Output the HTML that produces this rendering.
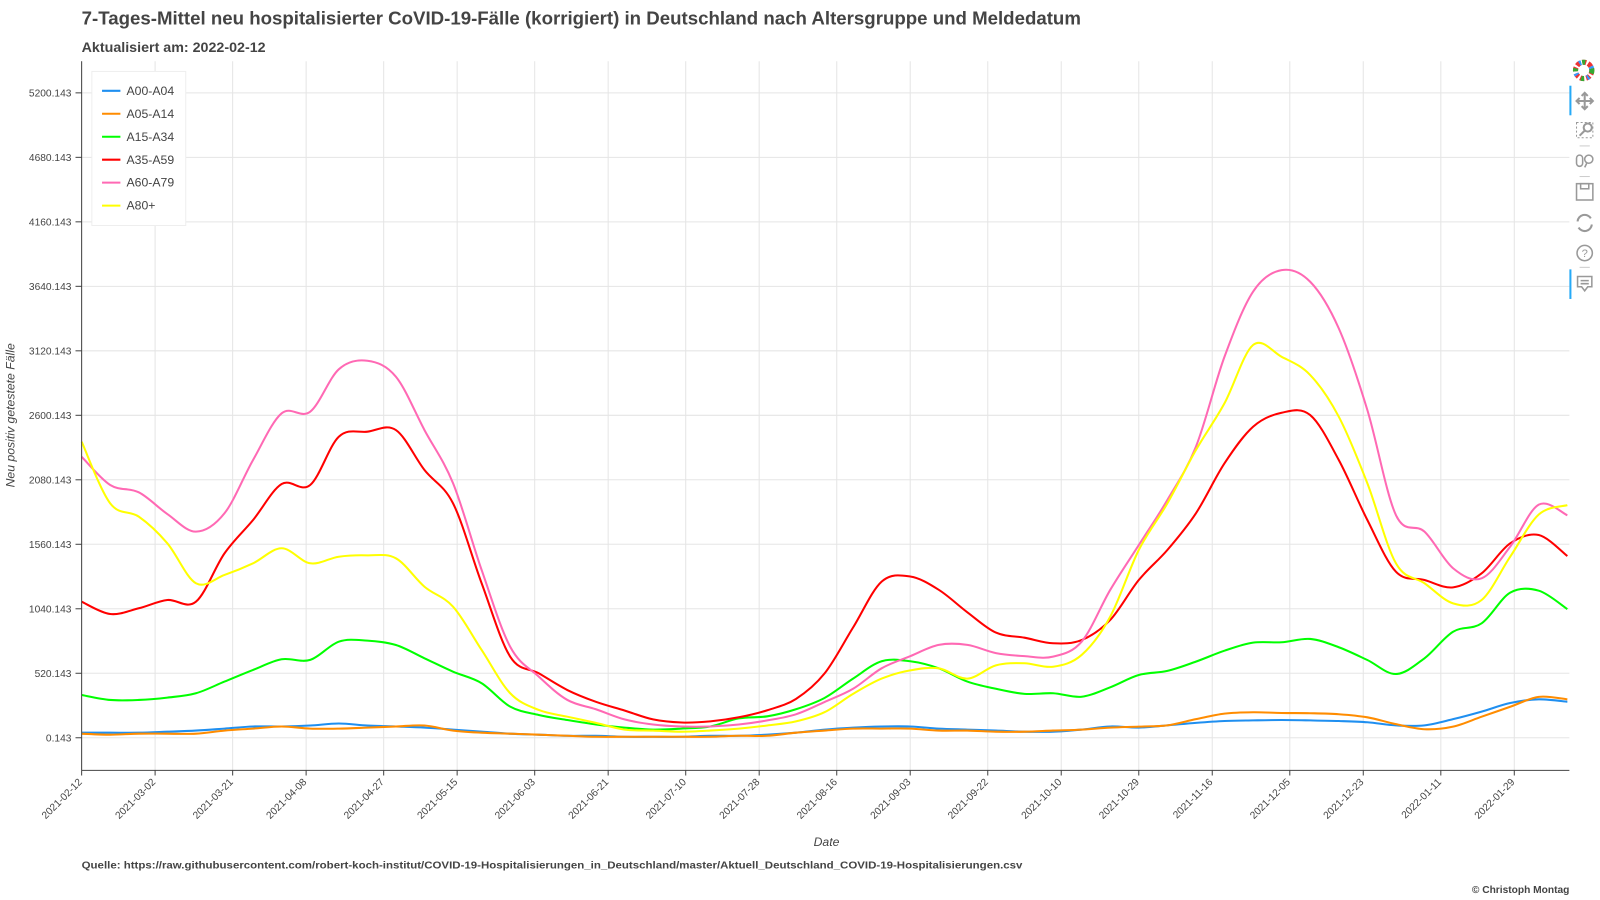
<!DOCTYPE html>
<html><head><meta charset="utf-8"><style>
html,body{margin:0;padding:0;background:#fff;}
svg{display:block;font-family:"Liberation Sans",Arial,sans-serif;}
</style></head><body>
<svg id="chart" width="1600" height="900" viewBox="0 0 1568 882">
<text x="80" y="24" font-size="18.3" font-weight="bold" fill="#444">7-Tages-Mittel neu hospitalisierter CoVID-19-Fälle (korrigiert) in Deutschland nach Altersgruppe und Meldedatum</text>
<text x="80" y="51" font-size="14" font-weight="bold" fill="#444">Aktualisiert am: 2022-02-12</text>
<g id="grid"></g>
<g id="series"></g>
<g id="axes"></g>
<text transform="translate(14,407) rotate(-90)" text-anchor="middle" font-size="12" font-style="italic" fill="#444">Neu positiv getestete Fälle</text>
<text x="810" y="829" text-anchor="middle" font-size="12" font-style="italic" fill="#444">Date</text>
<text x="80" y="851" font-size="10" font-weight="bold" fill="#444" textLength="922" lengthAdjust="spacingAndGlyphs">Quelle: https://raw.githubusercontent.com/robert-koch-institut/COVID-19-Hospitalisierungen_in_Deutschland/master/Aktuell_Deutschland_COVID-19-Hospitalisierungen.csv</text>
<text x="1538" y="875" text-anchor="end" font-size="10" font-weight="bold" fill="#444">© Christoph Montag</text>
<g id="legend"></g>
<g id="toolbar">
<g transform="translate(1552,69)">
<circle r="8" fill="none" stroke="#e33" stroke-width="5" stroke-dasharray="4 2"/><circle r="8" fill="none" stroke="#3a3" stroke-width="5" stroke-dasharray="3 9" />
<circle r="8" fill="none" stroke="#39f" stroke-width="5" stroke-dasharray="2 11" stroke-dashoffset="6"/><circle r="4" fill="#fff"/>
</g>
<rect x="1538" y="84" width="2" height="29" fill="#26aaf7"/>
<g stroke="#999" stroke-width="2" fill="none"><path d="M1545 99h16M1553 91v16"/><path d="M1550 94l3-3 3 3M1550 104l3 3 3-3M1548 96l-3 3 3 3M1558 96l3 3-3 3"/></g>
<g stroke="#999" fill="none"><rect x="1545" y="120" width="16" height="15" stroke-dasharray="2 2"/><circle cx="1556" cy="125" r="4" stroke-width="2"/><path d="M1553 128l-5 5" stroke-width="2"/></g>
<path d="M1548 143h10" stroke="#ccc"/>
<g stroke="#999" fill="none" stroke-width="1.5"><rect x="1545" y="152" width="6" height="11" rx="3"/><circle cx="1557" cy="156" r="4"/><path d="M1555 160l-2 4"/></g>
<path d="M1548 173h10" stroke="#ccc"/>
<g stroke="#999" fill="none" stroke-width="1.5"><rect x="1545" y="180" width="16" height="16"/><rect x="1549" y="180" width="8" height="5"/></g>
<g stroke="#999" fill="none" stroke-width="2"><path d="M1546 217a7 7 0 0 1 13-3M1560 220a7 7 0 0 1-13 3"/></g>
<g><circle cx="1553" cy="248" r="7.5" stroke="#999" stroke-width="1.5" fill="none"/><text x="1553" y="252" text-anchor="middle" font-size="11" fill="#999">?</text></g>
<path d="M1548 262h10" stroke="#ccc"/>
<rect x="1538" y="264" width="2" height="29" fill="#26aaf7"/>
<g stroke="#999" fill="none" stroke-width="1.5"><path d="M1546 271h14v10h-4l-3 4-3-4h-4z"/><path d="M1549 275h8M1549 278h8"/></g>
</g>
</svg>
<script>
const categoriesDays = [0,7,14,21,28,35,42,49,56,63,70,77,84,91,98,105,112,119,126,133,140,147,154,161,168,175,182,189,196,203,210,217,224,231,238,245,252,259,266,273,280,287,294,301,308,315,322,329,336,343,350,357,364];
const seriesNames = ["A00-A04","A05-A14","A15-A34","A35-A59","A60-A79","A80+"];
const seriesColors = ["#1f8ff0","#ff8c00","#00ff00","#ff0000","#ff69b4","#ffff00"];
const a00 = [41,41,41,49,58,74,91,91,99,115,99,91,82,66,49,33,25,16,16,8,8,8,16,16,25,41,66,82,91,91,74,66,58,49,49,66,91,82,100,120,135,140,143,140,135,125,100,100,150,211,280,310,290];
const a05 = [33,25,33,33,33,58,74,91,74,74,82,91,99,58,41,33,25,16,8,8,8,8,8,16,16,41,58,74,74,74,58,58,49,49,58,66,82,90,100,150,195,206,200,198,190,165,110,69,90,170,250,330,310];
const a15 = [345,305,305,324,359,453,547,633,628,775,783,748,641,533,440,251,184,143,107,82,66,74,91,156,173,230,321,477,617,617,560,453,395,354,359,331,407,506,539,614,702,767,770,797,730,627,514,641,855,923,1170,1186,1037];
const a35 = [1097,998,1044,1111,1097,1487,1756,2046,2038,2427,2468,2481,2159,1890,1246,654,520,385,290,220,148,123,132,165,222,313,518,889,1259,1300,1193,1012,848,807,762,788,950,1272,1514,1810,2213,2508,2621,2602,2240,1756,1339,1272,1213,1326,1568,1635,1465];
const a60 = [2266,2038,1979,1804,1662,1810,2240,2616,2629,2971,3040,2911,2481,2052,1353,734,493,305,230,148,107,91,91,107,140,189,288,395,560,658,749,749,683,658,654,775,1192,1554,1917,2347,3072,3597,3771,3677,3301,2643,1796,1662,1367,1286,1541,1880,1794];
const a80 = [2387,1890,1783,1568,1246,1313,1407,1528,1407,1460,1471,1447,1218,1057,708,359,224,170,120,66,58,49,58,74,99,132,206,354,477,543,560,477,584,601,573,668,976,1514,1890,2320,2697,3167,3072,2925,2589,2052,1407,1246,1084,1111,1460,1800,1876];
const yTickValues = [0.143,520.143,1040.143,1560.143,2080.143,2600.143,3120.143,3640.143,4160.143,4680.143,5200.143];
const xTickLabels = ["2021-02-12","2021-03-02","2021-03-21","2021-04-08","2021-04-27","2021-05-15","2021-06-03","2021-06-21","2021-07-10","2021-07-28","2021-08-16","2021-09-03","2021-09-22","2021-10-10","2021-10-29","2021-11-16","2021-12-05","2021-12-23","2022-01-11","2022-01-29"];
const allSeries = [a00,a05,a15,a35,a60,a80];

const NS="http://www.w3.org/2000/svg";
const L=80,R=1538,T=60,B=755;
function xScale(d){return L+d*4;}
function yScale(v){return 723-(v-0.143)*63.2/520;}
function dayOf(s){return Math.round((Date.parse(s)-Date.parse("2021-02-12"))/86400000);}
function mk(tag,attrs,parent){const e=document.createElementNS(NS,tag);for(const k in attrs)e.setAttribute(k,attrs[k]);parent.appendChild(e);return e;}
const grid=document.getElementById('grid'),axes=document.getElementById('axes'),ser=document.getElementById('series'),leg=document.getElementById('legend');
yTickValues.forEach(v=>{const y=yScale(v);
 const g=mk('line',{x1:L,x2:R,y1:y,y2:y,stroke:'#e5e5e5'},grid);
 
 
 const t=mk('text',{x:70,y:y+3.5,'text-anchor':'end','font-size':10,fill:'#444'},axes);t.textContent=v.toFixed(3);
 
 
 mk('line',{x1:L-6,x2:L,y1:y,y2:y,stroke:'#444'},axes);
});
xTickLabels.forEach(s=>{const x=xScale(dayOf(s));
 const g=mk('line',{x1:x,x2:x,y1:T,y2:B,stroke:'#e5e5e5'},grid);
 
 
 mk('line',{x1:x,x2:x,y1:B,y2:B+5,stroke:'#444'},axes);
 const t=mk('text',{transform:`translate(${x+1},${B+12}) rotate(-45)`,'text-anchor':'end','font-size':10,fill:'#444'},axes);t.textContent=s;
 
 
});
mk('line',{x1:L,x2:L,y1:T,y2:B,stroke:'#444'},axes);
mk('line',{x1:L,x2:R,y1:B,y2:B,stroke:'#444'},axes);
function path(pts){let d=`M${pts[0][0]},${pts[0][1]}`;for(let i=0;i<pts.length-1;i++){const p0=pts[i-1]||pts[i],p1=pts[i],p2=pts[i+1],p3=pts[i+2]||p2;
 d+=`C${p1[0]+(p2[0]-p0[0])/6},${p1[1]+(p2[1]-p0[1])/6} ${p2[0]-(p3[0]-p1[0])/6},${p2[1]-(p3[1]-p1[1])/6} ${p2[0]},${p2[1]}`;}return d;}
allSeries.forEach((vals,i)=>{const pts=vals.map((v,j)=>[xScale(categoriesDays[j]),yScale(v)]);
 const p=mk('path',{d:path(pts),fill:'none',stroke:seriesColors[i],'stroke-width':2},ser);
 
 
});
const box=mk('rect',{x:90,y:70,width:92,height:151,fill:'#fff',stroke:'#eee'},leg);


seriesNames.forEach((n,i)=>{const y=89+i*22.5;
 const g=mk('g',{},leg);
 
 
 mk('line',{x1:100,x2:118,y1:y,y2:y,stroke:seriesColors[i],'stroke-width':2},g);
 const t=mk('text',{x:124,y:y+4,'font-size':12,fill:'#444'},g);t.textContent=n;
});
</script>
</body></html>
